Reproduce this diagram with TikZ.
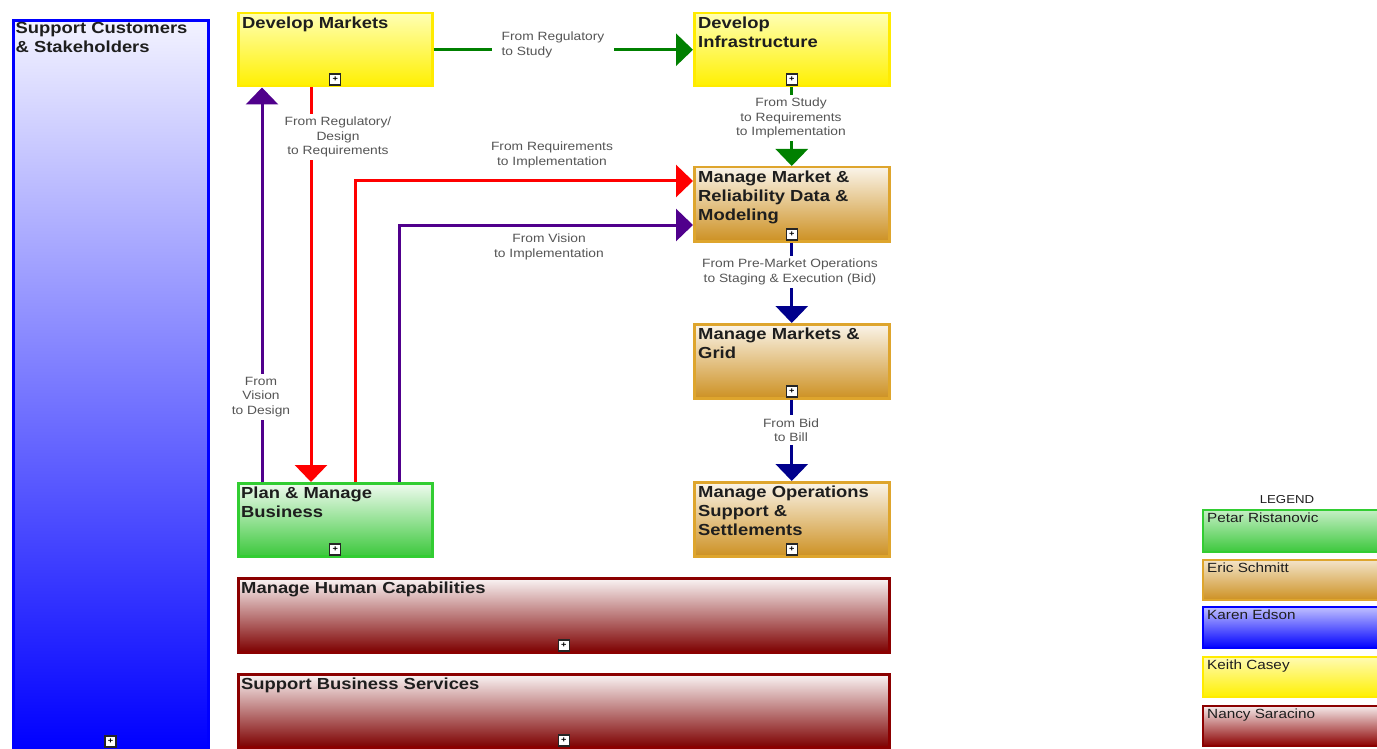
\documentclass[tikz,border=0pt]{standalone}
\usepackage{fontspec}
\setmainfont[FakeStretch=1.15]{Liberation Sans}
\usetikzlibrary{arrows.meta,calc}
\definecolor{yborder}{RGB}{255,235,0}
\definecolor{yfill}{RGB}{255,240,0}
\definecolor{gborder}{RGB}{222,165,45}
\definecolor{gfill}{RGB}{205,145,35}
\definecolor{grnb}{RGB}{50,205,50}
\definecolor{grnf}{RGB}{60,200,60}
\definecolor{blu}{RGB}{0,0,255}
\definecolor{dred}{RGB}{139,0,0}
\definecolor{agreen}{RGB}{0,128,0}
\definecolor{ared}{RGB}{255,0,0}
\definecolor{apurple}{RGB}{80,0,140}
\definecolor{anavy}{RGB}{0,0,140}
\definecolor{titlec}{RGB}{30,30,30}
\definecolor{lblc}{RGB}{85,85,85}
\tikzset{
  box/.style={draw, line width=2.5pt, rectangle, inner sep=0, anchor=north west},
  ybox/.style={box, draw=yborder, top color=yellow!30!white, bottom color=yfill},
  obox/.style={box, draw=gborder, top color=white!90!gfill, bottom color=gfill},
  gbox/.style={box, draw=grnb, top color=grnf!8!white, bottom color=grnf},
  bbox/.style={box, draw=blu, line width=3pt, top color=blu!5!white, bottom color=blu},
  rbox/.style={box, draw=dred, top color=dred!4!white, bottom color=dred!90!black},
  title/.style={anchor=north west, inner sep=0, align=left, text=titlec,
    font=\fontsize{16}{19}\selectfont\bfseries},
  lbl/.style={fill=white, inner xsep=3pt, inner ysep=3pt, align=center, text=lblc,
    font=\fontsize{12}{14.5}\selectfont},
  conn/.style={line width=3pt, -{Triangle[width=32pt,length=17pt]}},
  icon/.style={draw=black!85, line width=1.4pt, fill=white, minimum size=11pt, inner sep=0,
    font=\fontsize{8}{8}\selectfont\bfseries},
  legtext/.style={anchor=north west, inner sep=0, text=titlec, font=\fontsize{13.3}{15}\selectfont},
}
\begin{document}
\begin{tikzpicture}[x=1pt,y=-1pt]
\useasboundingbox (0,0) rectangle (1377,749);
\clip (0,0) rectangle (1377,749);
\fill[white] (0,0) rectangle (1377,749);
% boxes
\node[bbox, minimum width=195pt, minimum height=727pt] (scs) at (11.5,19.5) {};
\node[ybox, minimum width=194pt, minimum height=73pt] (dm) at (237,12) {};
\node[ybox, minimum width=195pt, minimum height=73pt] (di) at (693,12) {};
\node[obox, minimum width=195pt, minimum height=74pt] (mmr) at (693,166) {};
\node[obox, minimum width=195pt, minimum height=74pt] (mmg) at (693,323) {};
\node[obox, minimum width=195pt, minimum height=74pt] (mos) at (693,481) {};
\node[gbox, minimum width=194pt, minimum height=73pt] (plan) at (237,482) {};
\node[rbox, minimum width=651pt, minimum height=74pt] (mhc) at (237,577) {};
\node[rbox, minimum width=651pt, minimum height=73pt] (sbs) at (237,673) {};
% titles
\node[title] (tscs) at ($(scs.north west)+(4,3)$) {Support Customers\\\& Stakeholders};
\node[title] (tdm) at ($(dm.north west)+(5,4.5)$) {Develop Markets};
\node[title] (tdi) at ($(di.north west)+(5,4.5)$) {Develop\\Infrastructure};
\node[title] (tmmr) at ($(mmr.north west)+(5,4.5)$) {Manage Market \&\\Reliability Data \&\\Modeling};
\node[title] (tmmg) at ($(mmg.north west)+(5,4.5)$) {Manage Markets \&\\Grid};
\node[title] (tmos) at ($(mos.north west)+(5,4.5)$) {Manage Operations\\Support \&\\Settlements};
\node[title] (tplan) at ($(plan.north west)+(4,4.5)$) {Plan \& Manage\\Business};
\node[title] (tmhc) at ($(mhc.north west)+(4,4.5)$) {Manage Human Capabilities};
\node[title] (tsbs) at ($(sbs.north west)+(4,4.5)$) {Support Business Services};
% icons
\node[icon] (iscs) at ($(scs.south)+(0,-8)$) {+};
\node[icon] (idm) at ($(dm.south)+(0,-8)$) {+};
\node[icon] (idi) at ($(di.south)+(0,-8)$) {+};
\node[icon] (immr) at ($(mmr.south)+(0,-8)$) {+};
\node[icon] (immg) at ($(mmg.south)+(0,-8)$) {+};
\node[icon] (imos) at ($(mos.south)+(0,-8)$) {+};
\node[icon] (iplan) at ($(plan.south)+(0,-8)$) {+};
\node[icon] (imhc) at ($(mhc.south)+(0,-8)$) {+};
\node[icon] (isbs) at ($(sbs.south)+(0,-8)$) {+};
% connectors
\draw[conn, agreen] (dm.east) -- (di.west);
\draw[conn, agreen] (di.south) -- (mmr.north);
\draw[conn, anavy] (mmr.south) -- (mmg.north);
\draw[conn, anavy] (mmg.south) -- (mos.north);
\draw[conn, ared] ($(dm.south west)+(74,0)$) -- ($(plan.north west)+(74,0)$);
\draw[conn, apurple] ($(plan.north west)+(25,0)$) -- ($(dm.south west)+(25,0)$);
\draw[conn, ared] ($(plan.north west)+(118,0)$) |- ($(mmr.north west)+(0,15)$);
\draw[conn, apurple] ($(plan.north west)+(162,0)$) |- ($(mmr.north west)+(0,59)$);
% labels
\node[lbl, align=left, inner xsep=10pt] (lg1) at (553,45) {From Regulatory\\to Study};
\node[lbl] (lg2) at (791,118) {From Study\\to Requirements\\to Implementation};
\node[lbl] (lr1) at (338,137) {From Regulatory/\\Design\\to Requirements};
\node[lbl, fill=none] (lr2) at (552,155) {From Requirements\\to Implementation};
\node[lbl, fill=none] (lp1) at (549,247) {From Vision\\to Implementation};
\node[lbl] (lp2) at (261,397) {From\\Vision\\to Design};
\node[lbl] (ln1) at (790,272) {From Pre-Market Operations\\to Staging \& Execution (Bid)};
\node[lbl] (ln2) at (791,430) {From Bid\\to Bill};
% legend
\node[text=titlec, font=\fontsize{11.5}{13}\selectfont, inner sep=0] (legt) at (1287,500) {LEGEND};
\node[box, draw=grnb, line width=2pt, top color=grnf!30!white, bottom color=grnf, minimum width=200pt, minimum height=42pt] (lg) at (1202,509) {};
\node[box, draw=gborder, line width=2pt, top color=gfill!25!white, bottom color=gfill, minimum width=200pt, minimum height=40pt] (lo) at (1202,559) {};
\node[box, draw=blu, line width=2pt, top color=blu!25!white, bottom color=blu, minimum width=200pt, minimum height=41pt] (lb) at (1202,606) {};
\node[box, draw=yborder, line width=2pt, top color=yfill!30!white, bottom color=yfill, minimum width=200pt, minimum height=40pt] (ly) at (1202,656) {};
\node[box, draw=dred, line width=2pt, top color=dred!8!white, bottom color=dred, minimum width=200pt, minimum height=40pt] (lr) at (1202,705) {};
\node[legtext] (lgt) at ($(lg.north west)+(5,4)$) {Petar Ristanovic};
\node[legtext] (lot) at ($(lo.north west)+(5,4)$) {Eric Schmitt};
\node[legtext] (lbt) at ($(lb.north west)+(5,4)$) {Karen Edson};
\node[legtext] (lyt) at ($(ly.north west)+(5,4)$) {Keith Casey};
\node[legtext] (lrt) at ($(lr.north west)+(5,4)$) {Nancy Saracino};
\end{tikzpicture}
\end{document}
